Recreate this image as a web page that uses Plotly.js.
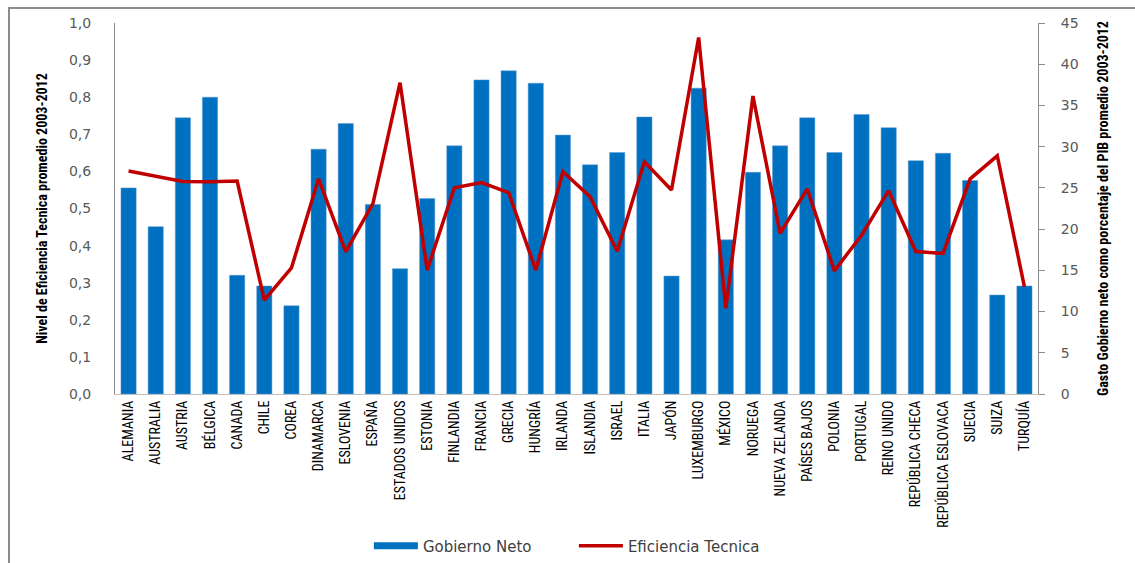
<!DOCTYPE html>
<html>
<head>
<meta charset="utf-8">
<script src="https://cdn.plot.ly/plotly-3.0.1.min.js"></script>
<style>
  html, body { margin: 0; padding: 0; background: #ffffff; }
  #wrap { position: relative; width: 1135px; height: 563px; }
  #frame { position: absolute; left: 8px; top: 7px; width: 1127px; height: 556px;
           border-left: 2px solid #8c8c8c; border-top: 2px solid #8c8c8c; box-sizing: border-box; }
  #chart { position: absolute; left: 0; top: 0; width: 1135px; height: 563px; }
</style>
</head>
<body>
<div id="wrap">
  <div id="frame"></div>
  <div id="chart"></div>
</div>
<script>
const paises = ["ALEMANIA","AUSTRALIA","AUSTRIA","BÉLGICA","CANADA","CHILE","COREA","DINAMARCA","ESLOVENIA","ESPAÑA","ESTADOS UNIDOS","ESTONIA","FINLANDIA","FRANCIA","GRECIA","HUNGRÍA","IRLANDA","ISLANDIA","ISRAEL","ITALIA","JAPÓN","LUXEMBURGO","MÉXICO","NORUEGA","NUEVA ZELANDA","PAÍSES BAJOS","POLONIA","PORTUGAL","REINO UNIDO","REPÚBLICA CHECA","REPÚBLICA ESLOVACA","SUECIA","SUIZA","TURQUÍA"];

// Gasto Gobierno neto como % del PIB (eje derecho)
const gobiernoNeto = [25.0,20.3,33.5,36.0,14.4,13.1,10.7,29.7,32.8,23.0,15.2,23.7,30.1,38.1,39.2,37.7,31.4,27.8,29.3,33.6,14.3,37.1,18.7,26.9,30.1,33.5,29.3,33.9,32.3,28.3,29.2,25.9,12.0,13.1];

// Nivel de eficiencia técnica (eje izquierdo)
const eficienciaTecnica = [0.601,0.588,0.573,0.572,0.574,0.253,0.340,0.580,0.384,0.513,0.839,0.334,0.556,0.570,0.543,0.334,0.599,0.532,0.385,0.626,0.550,0.961,0.231,0.803,0.433,0.553,0.332,0.428,0.548,0.384,0.379,0.580,0.642,0.289];

const leftTicks = [0,0.1,0.2,0.3,0.4,0.5,0.6,0.7,0.8,0.9,1.0];
const leftTickText = ["0,0","0,1","0,2","0,3","0,4","0,5","0,6","0,7","0,8","0,9","1,0"];
const rightTicks = [0,5,10,15,20,25,30,35,40,45];

const tickFont = {family: "DejaVu Sans, Verdana, sans-serif", size: 14, color: "#595959"};
const titleFont = {family: "Liberation Sans Narrow, Roboto Condensed, Arial Narrow, sans-serif", size: 14, color: "#000000", weight: "bold"};

const traces = [
  {
    type: "bar",
    name: "Gobierno Neto",
    x: paises,
    y: gobiernoNeto,
    yaxis: "y",
    showlegend: false,
    legendgroup: "gob",
    marker: {color: "#0070C0", line: {color: "#5b9bd5", width: 0.5}},
    hoverinfo: "x+y"
  },
  {
    // legend-only entry giving the wide blue swatch of the original legend
    type: "scatter",
    mode: "lines",
    name: "Gobierno Neto",
    legendgroup: "gob",
    x: [paises[0]],
    y: [null],
    yaxis: "y",
    line: {color: "#0070C0", width: 7},
    hoverinfo: "skip"
  },
  {
    type: "scatter",
    mode: "lines",
    name: "Eficiencia Tecnica",
    x: paises,
    y: eficienciaTecnica,
    yaxis: "y2",
    line: {color: "#C00000", width: 3.5},
    hoverinfo: "x+y"
  }
];

const layout = {
  width: 1135,
  height: 563,
  margin: {l: 115, r: 97, t: 23, b: 169},
  paper_bgcolor: "rgba(0,0,0,0)",
  plot_bgcolor: "rgba(0,0,0,0)",
  showlegend: true,
  bargap: 0.44,
  legend: {
    orientation: "h",
    xref: "container", yref: "container",
    x: 0.325, xanchor: "left",
    y: 0.03, yanchor: "middle",
    font: {family: "DejaVu Sans, Verdana, sans-serif", size: 15, color: "#404040"},
    itemwidth: 44,
    entrywidth: 146,
    entrywidthmode: "pixels",
    traceorder: "normal"
  },
  xaxis: {
    type: "category",
    tickangle: -90,
    tickfont: {family: "Liberation Sans Narrow, Roboto Condensed, Arial Narrow, sans-serif", size: 14, color: "#000000"},
    showline: true,
    linecolor: "#bfbfbf",
    linewidth: 1,
    ticks: "",
    showgrid: false,
    zeroline: false,
    automargin: false,
    fixedrange: true
  },
  yaxis: {
    side: "right",
    range: [0, 45],
    tickvals: rightTicks,
    tickfont: tickFont,
    showline: true,
    linecolor: "#8c8c8c",
    linewidth: 1,
    ticks: "outside",
    ticklen: 6,
    tickcolor: "#8c8c8c",
    ticklabelstandoff: 13,
    showgrid: false,
    zeroline: false,
    automargin: false,
    title: {text: "Gasto Gobierno neto como porcentaje del PIB promedio 2003-2012", font: titleFont, standoff: 20},
    fixedrange: true
  },
  yaxis2: {
    overlaying: "y",
    side: "left",
    range: [0, 1.0],
    tickvals: leftTicks,
    ticktext: leftTickText,
    tickfont: tickFont,
    showline: true,
    linecolor: "#8c8c8c",
    linewidth: 1,
    ticks: "",
    ticklabelstandoff: 20,
    showgrid: false,
    zeroline: false,
    automargin: false,
    title: {text: "Nivel de Eficiencia Tecnica promedio 2003-2012", font: titleFont, standoff: 18},
    fixedrange: true
  }
};

Plotly.newPlot("chart", traces, layout, {displayModeBar: false});
</script>
</body>
</html>
